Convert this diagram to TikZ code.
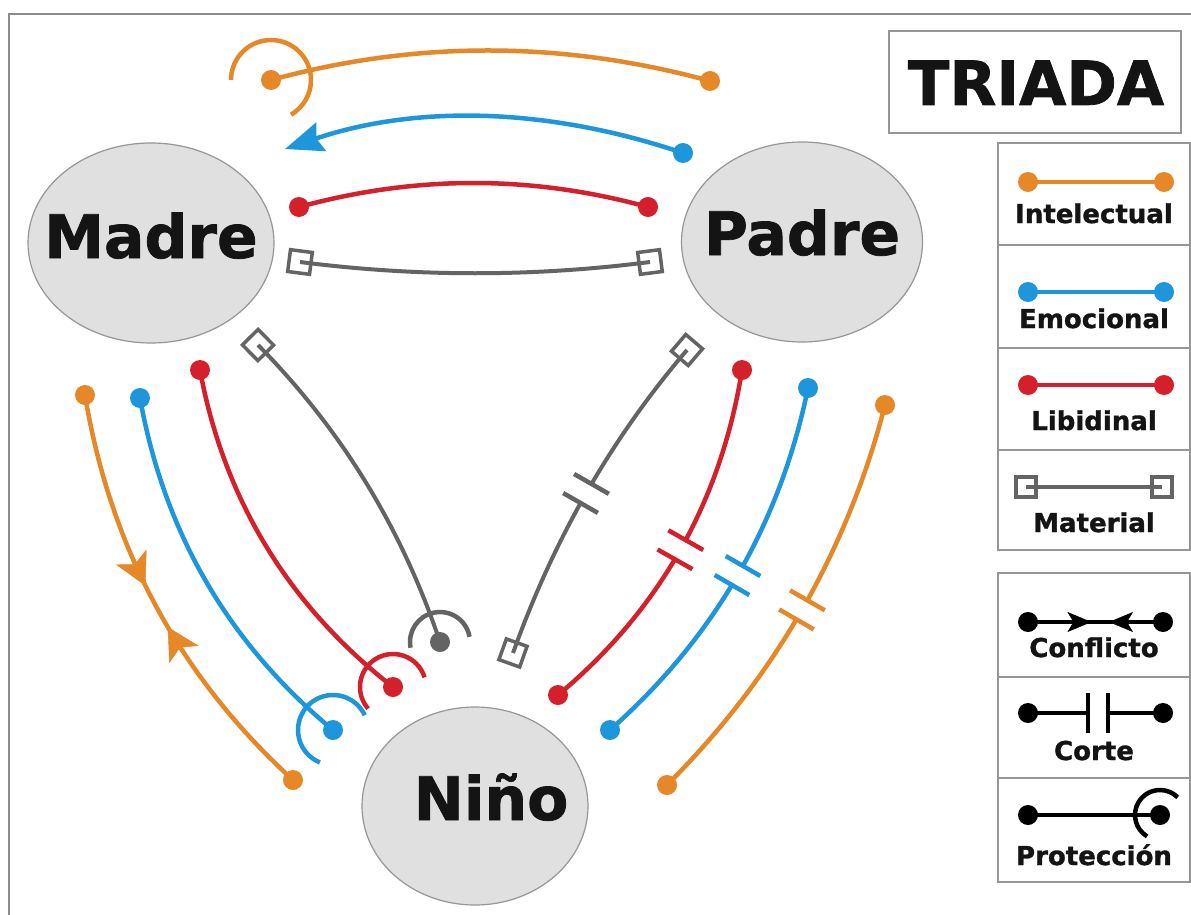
\documentclass[tikz,border=0pt]{standalone}
\usepackage{fontspec}
\setmainfont{DejaVu Sans}
\newfontfamily\heavyfont[FakeBold=1.2]{DejaVu Sans Bold}
\usetikzlibrary{arrows.meta,decorations.markings,shapes.geometric}
\definecolor{cOr}{RGB}{230,135,40}
\definecolor{cBl}{RGB}{30,150,220}
\definecolor{cRd}{RGB}{212,32,42}
\definecolor{cGr}{RGB}{100,100,100}
\definecolor{cFill}{RGB}{224,224,224}
\definecolor{cEdge}{RGB}{150,150,150}
\definecolor{cBox}{RGB}{150,150,150}
\tikzset{
  person/.style={ellipse, draw=cEdge, line width=1.2pt, fill=cFill, inner sep=0pt},
  bigtxt/.style={font=\fontsize{60}{60}\selectfont\heavyfont, text=black!92, inner sep=0pt, anchor=base},
  legtxt/.style={font=\fontsize{26}{26}\selectfont\heavyfont, text=black!92, inner sep=0pt, anchor=base},
  rel/.style={line width=4.5pt},
  legbox/.style={draw=cBox, line width=1.5pt},
  corte/.style={postaction={decorate, decoration={markings, mark=at position 0.5 with {\fill[white] (-9,-5) rectangle (9,5); \draw[#1, line width=4.5pt] (-11,-20) -- (-11,20) (11,-20) -- (11,20);}}}},
  sqstart/.style={postaction={decorate, decoration={markings, mark=at position 0 with {\draw[cGr, line width=3.5pt] (-11,-11) rectangle (11,11);}}}},
  sqend/.style={postaction={decorate, decoration={markings, mark=at position 0.9999 with {\draw[cGr, line width=3.5pt] (-11,-11) rectangle (11,11);}}}},
  conflict/.style={postaction={decorate, decoration={markings,
     mark=at position 0.45 with {\arrow{Stealth[length=32pt,width=34pt,inset=8pt,line width=0.5pt,color=#1]}},
     mark=at position 0.555 with {\arrowreversed{Stealth[length=32pt,width=34pt,inset=8pt,line width=0.5pt,color=#1]}}}}},
  legconf/.style={postaction={decorate, decoration={markings,
     mark=at position 0.47 with {\arrow{Stealth[length=24pt,width=20pt,inset=6pt,line width=0.5pt,color=black]}},
     mark=at position 0.60 with {\arrowreversed{Stealth[length=24pt,width=20pt,inset=6pt,line width=0.5pt,color=black]}}}}},
}
\begin{document}
\begin{tikzpicture}[x=1pt,y=-1pt]
\useasboundingbox (0,0) rectangle (1191,915);
\fill[white] (0,0) rectangle (1191,915);
\draw[color={rgb,255:red,140;green,140;blue,140}, line width=2pt] (9,915) -- (9,14) -- (1191,14);

% persons
\node[person, minimum width=246pt, minimum height=200pt] (madre) at (151,243) {};
\node[person, minimum width=241pt, minimum height=200pt] (padre) at (802,242) {};
\node[person, minimum width=226pt, minimum height=198pt] (nino) at (475,806) {};
\node[bigtxt] (madreT) at (151,258) {Madre};
\node[bigtxt] (padreT) at (802,255) {Padre};
\node[bigtxt] (ninoT) at (491,820) {Niño};

% endpoints
\coordinate (o1a) at (271,80);  \coordinate (o1b) at (710,81);
\coordinate (b1a) at (683,153); \coordinate (b1b) at (285,149);
\coordinate (r1a) at (299,207); \coordinate (r1b) at (648,207);
\coordinate (g1a) at (300,262); \coordinate (g1b) at (650,262);

\coordinate (o2a) at (85,395);  \coordinate (o2b) at (293,780);
\coordinate (b2a) at (140,398); \coordinate (b2b) at (333,730);
\coordinate (r2a) at (200,370); \coordinate (r2b) at (393,687);
\coordinate (g2a) at (258,345); \coordinate (g2b) at (440,642);

\coordinate (g3a) at (687,350); \coordinate (g3b) at (513,653);
\coordinate (r3a) at (742,370); \coordinate (r3b) at (558,695);
\coordinate (b3a) at (808,388); \coordinate (b3b) at (610,730);
\coordinate (o3a) at (885,405); \coordinate (o3b) at (667,785);

% Madre - Padre
\draw[rel,cOr] (o1a) .. controls +(146,-40) and +(-146,-40) .. (o1b);
\draw[rel,cBl,-{Stealth[length=38pt,width=30pt,inset=5pt]}] (b1a) .. controls +(-133,-45) and +(133,-45) .. (b1b);
\draw[rel,cRd] (r1a) .. controls +(117,-32) and +(-117,-32) .. (r1b);
\draw[rel,cGr,line width=4pt,sqstart,sqend] (g1a) .. controls +(117,15) and +(-117,15) .. (g1b);

% Madre - Nino
\draw[rel,cOr,conflict=cOr] (o2a) .. controls +(25,152) and +(-114,-104) .. (o2b);
\draw[rel,cBl] (b2a) .. controls +(24,134) and +(-105,-87) .. (b2b);
\draw[rel,cRd] (r2a) .. controls +(24,130) and +(-104,-81) .. (r2b);
\draw[rel,cGr,line width=4pt,sqstart] (g2a) .. controls +(84,85) and +(-38,-113) .. (g2b);

% Padre - Nino
\draw[rel,cGr,line width=4pt,sqstart,sqend,corte=cGr] (g3a) .. controls +(-77,90) and +(40,-112) .. (g3b);
\draw[rel,cRd,corte=cRd] (r3a) .. controls +(-21,131) and +(102,-85) .. (r3b);
\draw[rel,cBl,corte=cBl] (b3a) .. controls +(-28,136) and +(104,-92) .. (b3b);
\draw[rel,cOr,corte=cOr] (o3a) .. controls +(-38,147) and +(107,-107) .. (o3b);

% dots
\foreach \p in {o1a,o1b,o2a,o2b,o3a,o3b} \fill[cOr] (\p) circle[radius=10];
\foreach \p in {b1a,b2a,b2b,b3a,b3b} \fill[cBl] (\p) circle[radius=10];
\foreach \p in {r1a,r1b,r2a,r2b,r3a,r3b} \fill[cRd] (\p) circle[radius=10];
\fill[cGr] (g2b) circle[radius=10];

% protection arcs
\draw[rel,cOr] ([shift={(180:40)}]o1a) arc[start angle=180, end angle=420, radius=40];
\draw[rel,cBl] ([shift={(112:35)}]b2b) arc[start angle=112, end angle=335, radius=35];
\draw[rel,cRd] ([shift={(139:33)}]r2b) arc[start angle=139, end angle=343, radius=33];
\draw[rel,cGr] ([shift={(169:30)}]g2b) arc[start angle=169, end angle=350, radius=30];

% title
\draw[legbox] (889,31) rectangle (1181,133);
\node[font=\fontsize{61}{61}\selectfont\heavyfont, text=black!92, inner sep=0pt, anchor=base] (triada) at (1036,105) {TRIADA};

% legend group 1
\draw[legbox] (998,143) rectangle (1190,550);
\draw[legbox] (998,245) -- (1190,245) (998,348) -- (1190,348) (998,450) -- (1190,450);
\coordinate (li1) at (1028,182); \coordinate (li2) at (1164,182);
\draw[rel,cOr] (li1) -- (li2);
\fill[cOr] (li1) circle[radius=10] (li2) circle[radius=10];
\node[legtxt] (tI) at (1094,223) {Intelectual};

\coordinate (le1) at (1028,292); \coordinate (le2) at (1164,292);
\draw[rel,cBl] (le1) -- (le2);
\fill[cBl] (le1) circle[radius=10] (le2) circle[radius=10];
\node[legtxt] (tE) at (1094,328) {Emocional};

\coordinate (ll1) at (1028,385); \coordinate (ll2) at (1164,385);
\draw[rel,cRd] (ll1) -- (ll2);
\fill[cRd] (ll1) circle[radius=10] (ll2) circle[radius=10];
\node[legtxt] (tL) at (1094,430) {Libidinal};

\coordinate (lm1) at (1026,487); \coordinate (lm2) at (1162,487);
\draw[rel,cGr,line width=4pt] (lm1) -- (lm2);
\draw[cGr,line width=3.5pt] ([shift={(-10,-10)}]lm1) rectangle ([shift={(10,10)}]lm1);
\draw[cGr,line width=3.5pt] ([shift={(-10,-10)}]lm2) rectangle ([shift={(10,10)}]lm2);
\node[legtxt] (tM) at (1094,532) {Material};

% legend group 2
\draw[legbox] (998,573) rectangle (1190,882);
\draw[legbox] (998,677) -- (1190,677) (998,778) -- (1190,778);
\coordinate (lc1) at (1028,622); \coordinate (lc2) at (1163,622);
\draw[rel,black,legconf] (lc1) -- (lc2);
\fill[black] (lc1) circle[radius=10] (lc2) circle[radius=10];
\node[legtxt] (tC) at (1094,657) {Conflicto};

\coordinate (lk1) at (1028,713); \coordinate (lk2) at (1163,713);
\coordinate (lkb1) at (1088,713); \coordinate (lkb2) at (1108,713);
\draw[rel,black] (lk1) -- (lkb1) (lkb2) -- (lk2);
\draw[rel,black] ([yshift=-20pt]lkb1) -- ([yshift=20pt]lkb1) ([yshift=-20pt]lkb2) -- ([yshift=20pt]lkb2);
\fill[black] (lk1) circle[radius=10] (lk2) circle[radius=10];
\node[legtxt] (tK) at (1094,760) {Corte};

\coordinate (lp1) at (1028,815); \coordinate (lp2) at (1160,815);
\draw[rel,black] (lp1) -- (lp2);
\fill[black] (lp1) circle[radius=10] (lp2) circle[radius=10];
\draw[rel,black] ([shift={(121:25)}]lp2) arc[start angle=121, end angle=315, radius=25];
\node[legtxt] (tP) at (1094,865) {Protección};
\end{tikzpicture}
\end{document}
